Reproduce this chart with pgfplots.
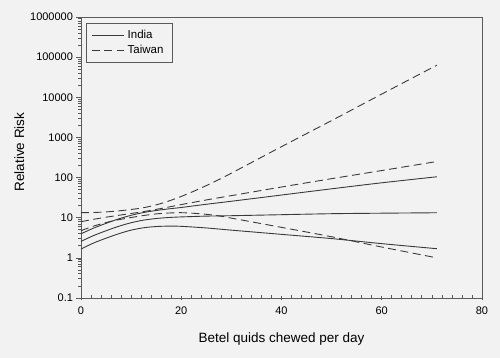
\documentclass[border=0pt]{standalone}
\usepackage{fontspec}
\setmainfont{Liberation Sans}
\usepackage{pgfplots}
\usepackage{pgfplotstable}
\pgfplotsset{compat=1.18}
\definecolor{bg}{HTML}{F2F2F2}
\definecolor{ln}{HTML}{3A3A3A}
\definecolor{ax}{HTML}{5A5A5A}
\pgfplotstableread{
x   lo     mid    hi
0   1.66   2.57   3.98
2.5 2.34   3.59   5.50
5   3.09   4.73   7.24
7.5 3.98   6.10   9.33
10  4.90   7.50   11.48
12.5 5.62  8.71   13.49
15  6.03   9.55   15.14
17.5 6.17  10.12  16.60
20  6.10   10.47  17.99
25  5.56   10.96  21.63
30  4.90   11.22  25.70
40  3.85   11.89  36.73
50  3.02   12.59  52.48
60  2.26   12.96  74.13
71  1.69   13.30  104.7
}\india
\pgfplotstableread{
x    lo     mid    hi
0    4.75   7.96   13.34
2.5  6.17   9.12   13.49
5    7.59   10.29  13.96
7.5  8.91   11.48  14.79
10   10.12  12.74  16.03
12.5 11.35  14.21  17.78
15   12.45  16.13  20.89
17.5 13.09  18.45  26.00
20   13.34  21.26  33.88
22.5 12.88  24.27  45.71
25   12.16  27.70  63.10
27.5 11.09  31.44  89.13
30   9.77   35.48  128.8
40   5.75   58.21  588.8
50   3.35   93.87  2630
60   1.86   149.6  12023
71   1.0    251.2  63096
}\taiwan
\begin{document}
\begin{tikzpicture}
\fill[bg] (-81pt,-60pt) rectangle (419pt,298pt);
\begin{axis}[
  at={(0pt,0pt)}, anchor=south west,
  scale only axis, width=401pt, height=281pt,
  ymode=log, xmin=0, xmax=80, ymin=0.1, ymax=1000000,
  axis background/.style={fill=bg},
  axis line style={ax, line width=0.9pt},
  xtick={0,20,40,60,80}, xticklabels={0,20,40,60,80},
  minor x tick num=9,
  ytick={0.1,1,10,100,1000,10000,100000,1000000},
  yticklabels={0.1,1,10,100,1000,10000,100000,1000000},
  minor ytick={0.2,0.3,0.4,0.5,0.6,0.7,0.8,0.9,2,3,4,5,6,7,8,9,20,30,40,50,60,70,80,90,200,300,400,500,600,700,800,900,2000,3000,4000,5000,6000,7000,8000,9000,20000,30000,40000,50000,60000,70000,80000,90000,200000,300000,400000,500000,600000,700000,800000,900000},
  xtick pos=bottom, ytick pos=left,
  tick align=outside,
  major tick length=4.5pt, minor tick length=2.5pt,
  every tick/.style={ax, line width=0.7pt},
  minor x tick style={yshift=2.5pt},
  major x tick style={yshift=2.25pt},
  /pgf/number format/assume math mode=true,
  tick label style={font=\fontsize{11}{13}\selectfont, text=black},
  xticklabel style={yshift=-1pt},
  xlabel={Betel quids chewed per day},
  ylabel={Relative Risk},
  label style={font=\fontsize{13.5}{16}\selectfont},
  xlabel style={at={(axis description cs:0.5,-0.157)}, anchor=base},
  ylabel style={at={(axis description cs:-0.142,0.52)}, anchor=base, rotate=0},
  legend style={at={(0.0125,0.98)}, anchor=north west, draw=ax, fill=bg,
    font=\fontsize{11.5}{13}\selectfont, line width=0.8pt,
    inner xsep=5pt, inner ysep=5pt, row sep=1.5pt,
    nodes={inner xsep=3.5pt}},
  legend cell align=left,
  legend image code/.code={\draw[#1, line width=0.8pt] (0pt,0pt) -- (32pt,0pt);},
]
\addplot[ln, line width=0.9pt, smooth] table[x=x,y=mid] {\india};
\addlegendentry{India}
\addplot[ln, line width=0.9pt, dash pattern=on 8pt off 4.5pt, smooth] table[x=x,y=mid] {\taiwan};
\addlegendentry{Taiwan}
\addplot[ln, line width=0.9pt, smooth, forget plot] table[x=x,y=lo] {\india};
\addplot[ln, line width=0.9pt, smooth, forget plot] table[x=x,y=hi] {\india};
\addplot[ln, line width=0.9pt, dash pattern=on 8pt off 4.5pt, smooth, forget plot] table[x=x,y=lo] {\taiwan};
\addplot[ln, line width=0.9pt, dash pattern=on 8pt off 4.5pt, smooth, forget plot] table[x=x,y=hi] {\taiwan};
\end{axis}
\end{tikzpicture}
\end{document}
